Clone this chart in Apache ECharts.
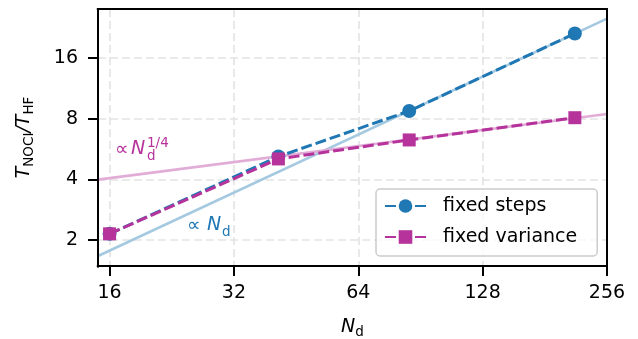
<!DOCTYPE html>
<html>
<head>
<meta charset="utf-8">
<script src="https://cdn.jsdelivr.net/npm/echarts@6/dist/echarts.min.js"></script>
<style>
html,body{margin:0;padding:0;background:#fff;}
#chart{width:638px;height:339px;}
</style>
</head>
<body>
<div id="chart"></div>
<script>
// ---- data ----
const nd = [16, 41, 85, 214];
const fixedSteps = [2.15, 5.19, 8.72, 21.1];
const fixedVariance = [2.15, 5.05, 6.27, 8.08];
const guideX = [15, 256];
const guideLinear = [1.67, 25.0];     // ∝ N_d
const guideQuarter = [3.99, 8.43];    // ∝ N_d^{1/4}
const xTickLabels = [16, 32, 64, 128, 256];
const yTickLabels = [2, 4, 8, 16];
const xRange = [15, 256];
const yRange = [1.49, 27.9];
const seriesNames = ['fixed steps', 'fixed variance'];

const BLUE = '#1f77b4';
const MAG = '#b5339b';
const LBLUE = '#a5c9e1';
const LMAG = '#e1add7';
const FONT = 'DejaVu Sans';

const pairs = (xs, ys) => xs.map((x, i) => [x, ys[i]]);
const labelIf = list => v => {
  const r = Math.round(v);
  return (Math.abs(v - r) < 1e-6 && list.indexOf(r) >= 0) ? String(r) : '';
};

const chart = echarts.init(document.getElementById('chart'), null, {renderer: 'canvas'});

const gridLine = {show: true, showMinLine: false, showMaxLine: false, lineStyle: {color: '#e3e3e3', width: 1.6, type: [8, 4]}};

const option = {
  animation: false,
  grid: {left: 98, right: 31, top: 9, bottom: 73, show: true, borderColor: '#000', borderWidth: 2, backgroundColor: 'transparent', z: 10, outerBoundsMode: 'none', containLabel: false},
  xAxis: {
    type: 'log', logBase: 2, min: xRange[0], max: xRange[1],
    axisLine: {lineStyle: {color: '#000', width: 2}},
    axisTick: {show: true, length: 10, lineStyle: {color: '#000', width: 2}},
    axisLabel: {color: '#000', fontFamily: FONT, fontSize: 19, margin: 18, formatter: labelIf(xTickLabels)},
    splitLine: gridLine,
    name: '{n|N}{s|d}', nameLocation: 'middle', nameGap: 50,
    nameTextStyle: {rich: {
      n: {fontFamily: FONT, fontSize: 19, fontStyle: 'italic', color: '#000'},
      s: {fontFamily: FONT, fontSize: 13.5, color: '#000', padding: [9, 0, 0, 0]}
    }}
  },
  yAxis: {
    type: 'log', logBase: 2, min: yRange[0], max: yRange[1],
    axisLine: {lineStyle: {color: '#000', width: 2}},
    axisTick: {show: true, length: 10, lineStyle: {color: '#000', width: 2}},
    axisLabel: {color: '#000', fontFamily: FONT, fontSize: 19, margin: 20, formatter: labelIf(yTickLabels)},
    splitLine: gridLine,
    name: '{t|T}{s|NOCI}{t|/}{t|T}{s|HF}', nameLocation: 'middle', nameGap: 62,
    nameTextStyle: {rich: {
      t: {fontFamily: FONT, fontSize: 19, fontStyle: 'italic', color: '#000'},
      s: {fontFamily: FONT, fontSize: 13.5, color: '#000', padding: [9, 0, 0, 0]}
    }}
  },
  legend: {
    data: seriesNames,
    orient: 'vertical', left: 376, top: 189,
    padding: [7, 20, 9, 8],
    itemWidth: 41, itemHeight: 17, itemGap: 11,
    backgroundColor: 'rgba(255,255,255,0.8)',
    borderColor: '#cccccc', borderWidth: 1.5, borderRadius: 4,
    textStyle: {fontFamily: FONT, fontSize: 19, color: '#000', padding: [0, 0, 0, 12], lineHeight: 20}
  },
  series: [
    {
      type: 'line', data: pairs(guideX, guideLinear), symbol: 'none', silent: true,
      lineStyle: {color: LBLUE, width: 2.6}, z: 1
    },
    {
      type: 'line', data: pairs(guideX, guideQuarter), symbol: 'none', silent: true,
      lineStyle: {color: LMAG, width: 2.6}, z: 1
    },
    {
      name: seriesNames[0], type: 'line', data: pairs(nd, fixedSteps),
      symbol: 'circle', symbolSize: 14,
      itemStyle: {color: BLUE},
      lineStyle: {color: BLUE, width: 3, type: [11, 4]}, z: 3
    },
    {
      name: seriesNames[1], type: 'line', data: pairs(nd, fixedVariance),
      symbol: 'rect', symbolSize: 13,
      itemStyle: {color: MAG},
      lineStyle: {color: MAG, width: 3, type: [11, 4]}, z: 4
    }
  ],
  graphic: [
    // mask the extra end-of-range tick marks that the log axes add at the plot corners
    {type: 'rect', z: 100, shape: {x: 84, y: 5, width: 12.8, height: 8}, style: {fill: '#fff'}},
    {type: 'rect', z: 100, shape: {x: 84, y: 262, width: 12.8, height: 8}, style: {fill: '#fff'}},
    {type: 'rect', z: 100, shape: {x: 94, y: 267.6, width: 8, height: 13}, style: {fill: '#fff'}},
    {type: 'text', left: 115, top: 141, style: {text: '∝', fontFamily: FONT, fontSize: 19, fill: MAG}},
    {type: 'text', left: 131, top: 140, style: {text: 'N', fontFamily: FONT, fontSize: 19, fontStyle: 'italic', fill: MAG}},
    {type: 'text', left: 147, top: 149, style: {text: 'd', fontFamily: FONT, fontSize: 13.5, fill: MAG}},
    {type: 'text', left: 147, top: 136, style: {text: '1/4', fontFamily: FONT, fontSize: 13.5, fill: MAG}},
    {type: 'text', left: 187, top: 217, style: {text: '∝', fontFamily: FONT, fontSize: 19, fill: BLUE}},
    {type: 'text', left: 207, top: 216, style: {text: 'N', fontFamily: FONT, fontSize: 19, fontStyle: 'italic', fill: BLUE}},
    {type: 'text', left: 222, top: 225, style: {text: 'd', fontFamily: FONT, fontSize: 13.5, fill: BLUE}}
  ]
};
chart.setOption(option);
</script>
</body>
</html>
